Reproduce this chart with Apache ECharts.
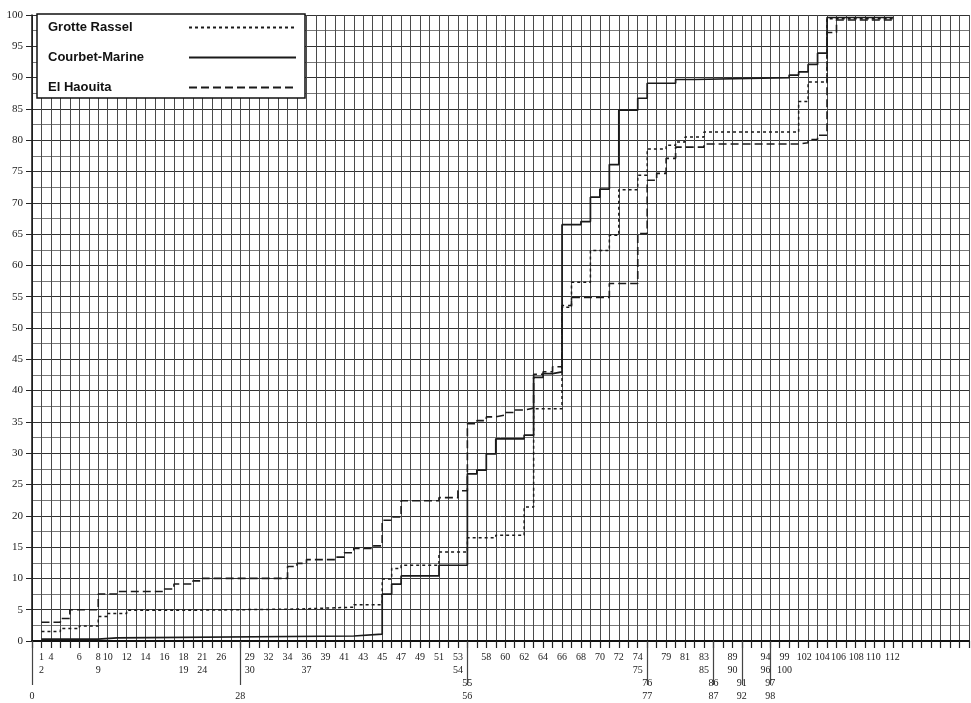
<!DOCTYPE html>
<html><head><meta charset="utf-8">
<script src="https://cdn.jsdelivr.net/npm/echarts@6/dist/echarts.min.js"></script>
<style>html,body{margin:0;padding:0;background:#fff}#c{width:971px;height:703px}</style>
</head><body><div id="c"></div>
<script>
// ---- data (x = column/tick index of the type list, y = cumulative %) ----
const seriesNames = ['Grotte Rassel', 'Courbet-Marine', 'El Haouita'];

const grTicks  = [1, 3, 5, 7, 8, 10, 16, 28, 34, 37, 38, 39, 43, 46, 49, 52, 53, 56, 57, 59, 61, 62, 64, 65, 67, 68, 69, 71, 81, 82, 84];
const grValues = [1.5, 2.0, 2.4, 3.9, 4.4, 4.9, 5.1, 5.4, 5.8, 9.9, 11.6, 12.1, 14.2, 16.5, 16.9, 21.4, 37.1, 53.3, 57.3, 62.4, 64.8, 72.1, 74.4, 78.6, 79.2, 79.7, 80.5, 81.3, 86.2, 89.3, 99.4];

const cmTicks  = [1, 7, 9, 34, 37, 38, 39, 43, 46, 47, 48, 49, 52, 53, 54, 55, 56, 58, 59, 60, 61, 62, 64, 65, 68, 70, 80, 81, 82, 83, 84];
const cmValues = [0.3, 0.5, 0.8, 1.1, 7.5, 9.1, 10.4, 12.1, 26.7, 27.3, 29.9, 32.3, 32.9, 42.1, 42.7, 43.0, 66.5, 67.0, 70.9, 72.2, 76.1, 84.8, 86.7, 89.1, 89.7, 90.0, 90.4, 90.9, 92.1, 93.9, 99.6];

const ehTicks  = [1, 3, 4, 7, 9, 14, 15, 17, 18, 27, 28, 29, 32, 33, 34, 36, 37, 38, 39, 43, 45, 46, 47, 48, 49, 50, 51, 52, 53, 54, 55, 56, 57, 61, 64, 65, 66, 67, 68, 71, 81, 82, 83, 84, 85];
const ehValues = [3.0, 3.6, 5.0, 7.5, 7.9, 8.3, 9.1, 9.6, 10.0, 11.9, 12.4, 13.0, 13.4, 14.1, 14.8, 15.2, 19.3, 19.8, 22.4, 22.9, 24.0, 34.7, 35.2, 35.8, 36.1, 36.5, 36.9, 37.2, 42.6, 43.0, 43.8, 53.6, 54.9, 57.1, 65.1, 73.6, 74.7, 77.1, 78.9, 79.4, 79.6, 80.1, 80.8, 97.2, 99.2];

const endTick = 91;       // last column reached by the curves
const xMax = 99;          // columns drawn on the paper
const yMax = 100;

// type-number labels under the axis: position (column), text (rows separated by \n)
const xLabelPos  = [0, 1, 2, 5, 7, 8, 10, 12, 14, 16, 18, 20, 22, 23, 25, 27, 29, 31, 33, 35, 37, 39, 41, 43, 45, 46, 48, 50, 52, 54, 56, 58, 60, 62, 64, 65, 67, 69, 71, 72, 74, 75, 77.5, 78, 79.5, 81.6, 83.5, 85.2, 87.1, 88.9, 90.9];
const xLabelText = ['\n\n\n0', '1\n2', '4', '6', '8\n9', '10', '12', '14', '16', '18\n19', '21\n24', '26', '\n\n\n28', '29\n30', '32', '34', '36\n37', '39', '41', '43', '45', '47', '49', '51', '53\n54', '\n\n55\n56', '58', '60', '62', '64', '66', '68', '70', '72', '74\n75', '\n\n76\n77', '79', '81', '83\n85', '\n\n86\n87', '89\n90', '\n\n91\n92', '94\n96', '\n\n97\n98', '99\n100', '102', '104', '106', '108', '110', '112'];
const leaderPos = [0, 22, 46, 65, 72, 75, 78];

// ---- build ----
function build(t, v) {
  const d = t.map((x, i) => [x, v[i]]);
  d.push([endTick, v[v.length - 1]]);
  return d;
}
const labelMap = {};
xLabelPos.forEach((p, i) => { labelMap[String(p)] = xLabelText[i]; });

const INK = '#1a1a1a';
const chart = echarts.init(document.getElementById('c'), null, { renderer: 'canvas' });
const baseX = { type: 'value', min: 0, max: xMax, interval: 1, gridIndex: 0, position: 'bottom' };

chart.setOption({
  animation: false,
  backgroundColor: '#fff',
  grid: { left: 32, right: 2, top: 15, bottom: 62, containLabel: false },
  legend: {
    orient: 'vertical', left: 37, top: 14, align: 'right',
    itemWidth: 107, itemHeight: 14, itemGap: 17,
    padding: [7, 8, 4, 11],
    backgroundColor: '#fff', borderColor: '#111', borderWidth: 1.5,
    itemStyle: { opacity: 0, borderWidth: 0 },
    formatter: name => '{t|' + name + '}',
    textStyle: {
      fontFamily: 'Liberation Sans, Arial, sans-serif', fontWeight: 'bold', fontSize: 13, color: '#111',
      rich: { t: { width: 136, align: 'left', fontFamily: 'Liberation Sans, Arial, sans-serif', fontWeight: 'bold', fontSize: 13, color: '#111' } }
    },
    data: seriesNames
  },
  xAxis: [
    Object.assign({}, baseX, {
      axisLine: { show: true, onZero: false, lineStyle: { color: '#111', width: 2 } },
      axisTick: { show: true, length: 7, lineStyle: { color: '#222', width: 1.2 } },
      axisLabel: { show: false },
      splitLine: { show: true, lineStyle: { color: '#4a4a4a', width: 1 } }
    }),
    Object.assign({}, baseX, {
      axisLine: { show: false },
      axisTick: { show: false },
      splitLine: { show: false },
      axisLabel: {
        show: true, customValues: xLabelPos, margin: 10, showMinLabel: true, showMaxLabel: true, hideOverlap: false,
        fontFamily: 'Liberation Serif, Times New Roman, serif', fontSize: 10, lineHeight: 13, color: '#222',
        formatter: v => labelMap[String(v)] || ''
      }
    }),
    Object.assign({}, baseX, {
      axisLine: { show: false },
      axisLabel: { show: false },
      splitLine: { show: false },
      axisTick: { show: true, customValues: leaderPos, length: 44, lineStyle: { color: '#444', width: 1.2 } }
    })
  ],
  yAxis: {
    type: 'value', min: 0, max: yMax, interval: 5,
    axisLine: { show: true, onZero: false, lineStyle: { color: '#111', width: 1.5 } },
    axisTick: { show: true, length: 6, lineStyle: { color: '#222' } },
    axisLabel: { fontFamily: 'Liberation Serif, Times New Roman, serif', fontSize: 11, color: '#222', margin: 9 },
    splitLine: { show: true, lineStyle: { color: '#333', width: 1 } },
    minorTick: { show: false, splitNumber: 2 },
    minorSplitLine: { show: true, lineStyle: { color: '#777', width: 1 } }
  },
  series: [
    { name: seriesNames[0], type: 'line', step: 'end', symbol: 'none', data: build(grTicks, grValues),
      lineStyle: { color: INK, width: 1.5, type: [3, 3] }, itemStyle: { color: INK }, z: 3 },
    { name: seriesNames[1], type: 'line', step: 'end', symbol: 'none', data: build(cmTicks, cmValues),
      lineStyle: { color: INK, width: 1.7, type: 'solid' }, itemStyle: { color: INK }, z: 3 },
    { name: seriesNames[2], type: 'line', step: 'end', symbol: 'none', data: build(ehTicks, ehValues),
      lineStyle: { color: INK, width: 1.6, type: [8, 4] }, itemStyle: { color: INK }, z: 3 }
  ]
});
</script>
</body></html>
